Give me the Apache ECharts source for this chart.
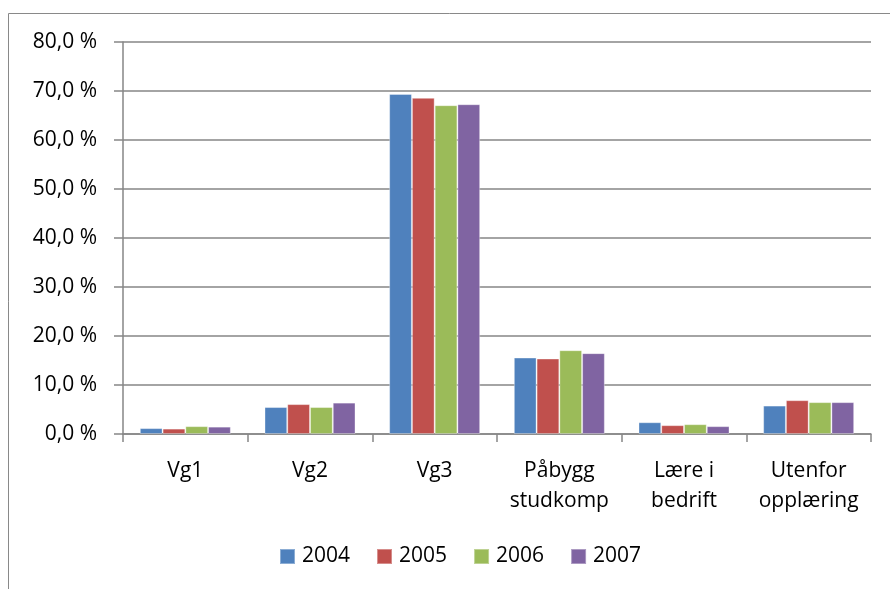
<!DOCTYPE html>
<html>
<head>
<meta charset="utf-8">
<script src="https://cdn.jsdelivr.net/npm/echarts@6/dist/echarts.min.js"></script>
<style>
html, body { margin: 0; padding: 0; background: #fff; }
#chart { width: 890px; height: 589px; }
</style>
</head>
<body>
<div id="chart"></div>
<script>
// kategorier og verdier (prosent)
var categories = ['Vg1', 'Vg2', 'Vg3', 'Påbygg\nstudkomp', 'Lære i\nbedrift', 'Utenfor\nopplæring'];
var years = ['2004', '2005', '2006', '2007'];
var v2004 = [1.2, 5.5, 69.4, 15.6, 2.4, 5.8];
var v2005 = [1.1, 6.1, 68.6, 15.4, 1.8, 6.9];
var v2006 = [1.6, 5.5, 67.1, 17.1, 2.0, 6.5];
var v2007 = [1.5, 6.4, 67.3, 16.5, 1.6, 6.5];
var colors = ['#4F81BD', '#C0504D', '#9BBB59', '#8064A2'];

var font = 'Open Sans';
var chart = echarts.init(document.getElementById('chart'));

function bar(name, data) {
    return {
        name: name,
        type: 'bar',
        data: data,
        barGap: '0%',
        barCategoryGap: '27%',
        itemStyle: { borderColor: 'rgba(255,255,255,0.35)', borderWidth: 1 }
    };
}

var option = {
    animation: false,
    color: colors,
    graphic: [{
        type: 'rect',
        shape: { x: 8.5, y: 13.5, width: 900, height: 600 },
        style: { fill: 'none', stroke: '#898989', lineWidth: 1 }
    }],
    legend: {
        data: years,
        bottom: 17,
        left: 274,
        itemWidth: 15,
        itemHeight: 15,
        itemGap: 26,
        icon: 'rect',
        textStyle: { fontFamily: font, fontSize: 21, color: '#000', padding: [0, 0, 0, 2] }
    },
    grid: { left: 123, right: 19, top: 42, bottom: 155 },
    xAxis: {
        type: 'category',
        data: categories,
        axisLine: { lineStyle: { color: '#868686', width: 1.5 } },
        axisTick: { show: true, length: 8, lineStyle: { color: '#868686', width: 1.5 } },
        axisLabel: { interval: 0, fontFamily: font, fontSize: 21, color: '#000', margin: 22, lineHeight: 30 }
    },
    yAxis: {
        type: 'value',
        min: 0,
        max: 80,
        interval: 10,
        axisLine: { show: true, lineStyle: { color: '#868686', width: 1.5 } },
        axisTick: { show: true, length: 9, lineStyle: { color: '#868686', width: 1.5 } },
        splitLine: { lineStyle: { color: '#868686', width: 1.5 } },
        axisLabel: {
            fontFamily: font, fontSize: 21, color: '#000', margin: 26,
            formatter: function (v) { return v.toFixed(1).replace('.', ',') + ' %'; }
        }
    },
    series: [
        bar(years[0], v2004),
        bar(years[1], v2005),
        bar(years[2], v2006),
        bar(years[3], v2007)
    ]
};
chart.setOption(option);
</script>
</body>
</html>
